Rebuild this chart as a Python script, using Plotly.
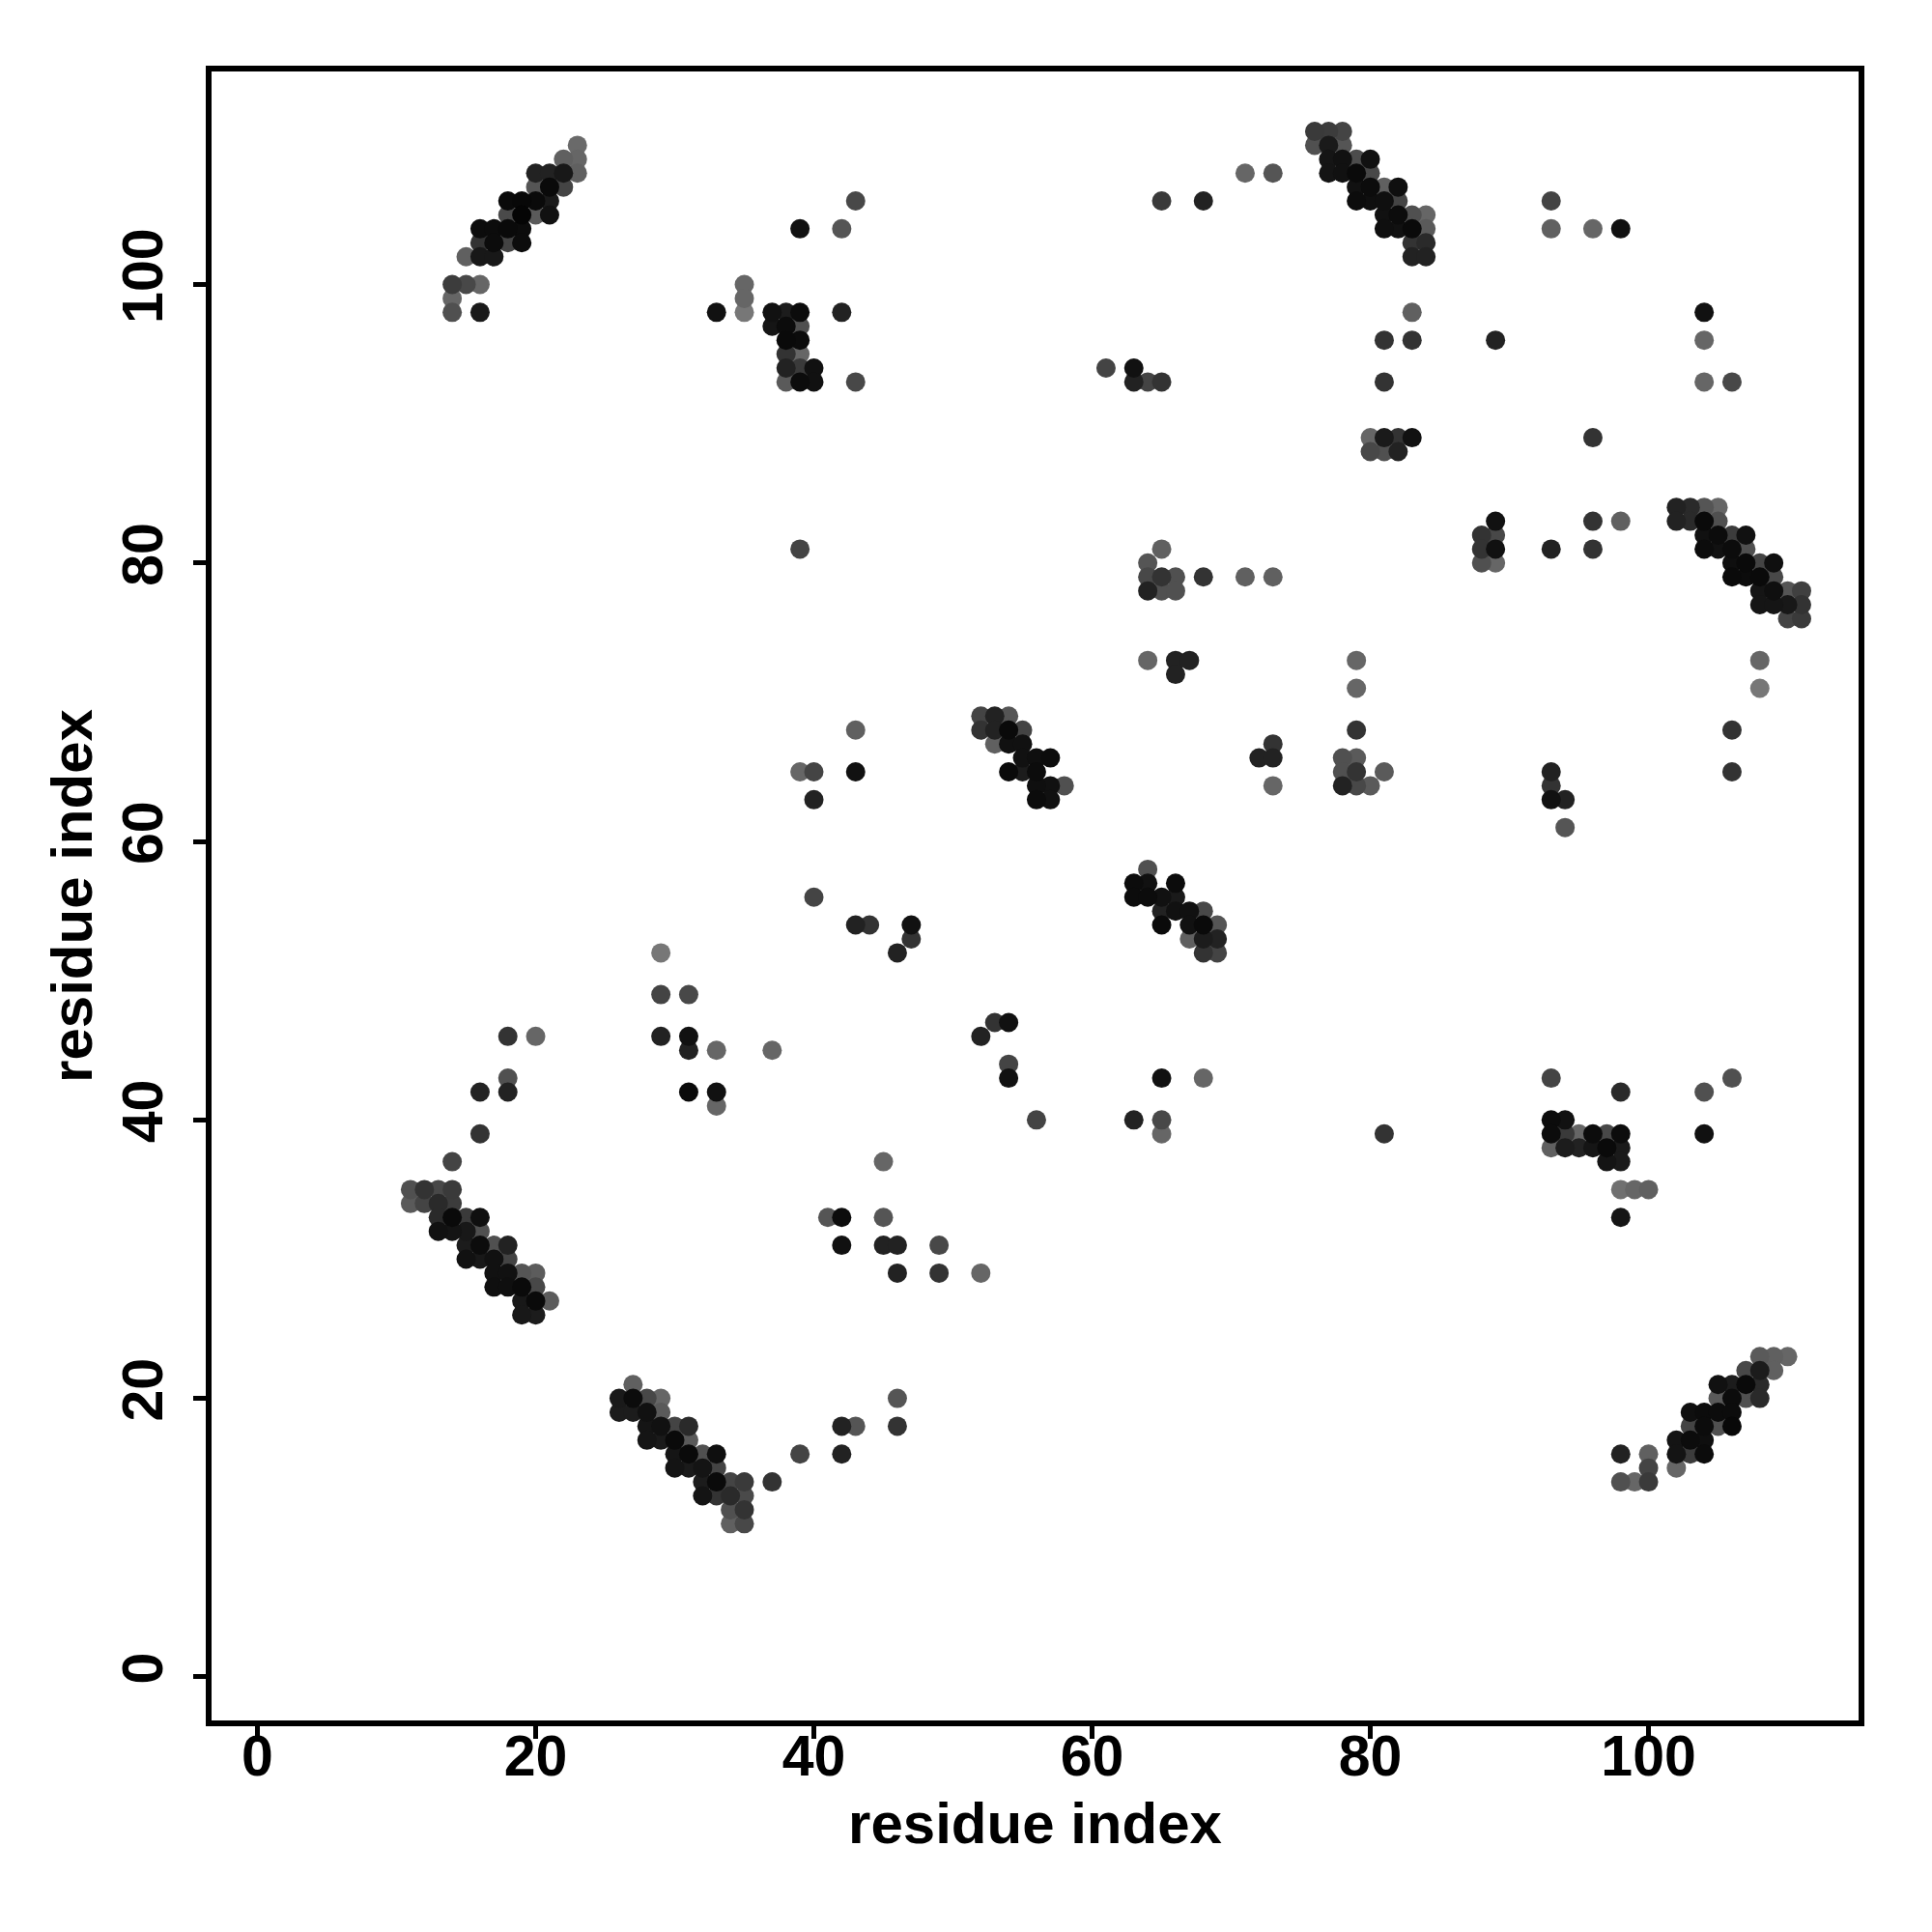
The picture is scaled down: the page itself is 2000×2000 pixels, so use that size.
import plotly.graph_objects as go

# (x, gray level 0-255) per contact, grouped by y
rows_y = {
 111:[(76,0x3a),(77,0x3c),(78,0x44)],
 110:[(23,0x6a),(76,0x50),(77,0x1a),(78,0x55)],
 109:[(22,0x60),(23,0x66),(77,0x15),(78,0x11),(79,0x4c),(80,0x11)],
 108:[(20,0x22),(21,0x22),(22,0x18),(23,0x60),(71,0x66),(73,0x55),(77,0x14),(78,0x11),(79,0x0a),(80,0x48)],
 107:[(20,0x55),(21,0x0a),(22,0x44),(79,0x11),(80,0x0c),(81,0x60),(82,0x0f)],
 106:[(18,0x0a),(19,0x08),(20,0x0a),(21,0x1a),(43,0x48),(65,0x3a),(68,0x22),(79,0x0c),(80,0x0f),(81,0x0f),(82,0x44),(93,0x44)],
 105:[(18,0x4a),(19,0x05),(20,0x5a),(21,0x11),(81,0x11),(82,0x0c),(83,0x50),(84,0x66)],
 104:[(16,0x0c),(17,0x0c),(18,0x0a),(19,0x0c),(39,0x11),(42,0x55),(81,0x0f),(82,0x11),(83,0x0a),(84,0x5a),(93,0x60),(96,0x66),(98,0x11)],
 103:[(16,0x33),(17,0x0c),(18,0x44),(19,0x0c),(83,0x33),(84,0x2a)],
 102:[(15,0x60),(16,0x18),(17,0x18),(83,0x22),(84,0x22)],
 100:[(14,0x3c),(15,0x48),(16,0x66),(35,0x66)],
 99:[(14,0x66),(35,0x66)],
 98:[(14,0x50),(16,0x1a),(33,0x11),(35,0x77),(37,0x11),(38,0x1c),(39,0x0c),(42,0x22),(83,0x60),(104,0x11)],
 97:[(37,0x15),(38,0x0c),(39,0x50)],
 96:[(38,0x0a),(39,0x0c),(81,0x33),(83,0x33),(89,0x22),(104,0x66)],
 95:[(38,0x33),(39,0x66)],
 94:[(38,0x22),(39,0x3a),(40,0x11),(61,0x44),(63,0x11)],
 93:[(38,0x5a),(39,0x0c),(40,0x11),(43,0x48),(63,0x22),(64,0x44),(65,0x33),(81,0x33),(104,0x66),(106,0x48)],
 89:[(80,0x66),(81,0x1a),(82,0x33),(83,0x11),(96,0x33)],
 88:[(80,0x48),(81,0x50),(82,0x22)],
 84:[(102,0x22),(103,0x2a),(104,0x55),(105,0x66)],
 83:[(89,0x11),(96,0x33),(98,0x60),(102,0x22),(103,0x2a),(104,0x0a),(105,0x50)],
 82:[(88,0x33),(89,0x48),(104,0x11),(105,0x0c),(106,0x3c),(107,0x11)],
 81:[(39,0x44),(65,0x60),(88,0x33),(89,0x11),(93,0x22),(96,0x33),(104,0x0c),(105,0x11),(106,0x0c),(107,0x50)],
 80:[(64,0x55),(88,0x50),(89,0x66),(106,0x0f),(107,0x0a),(108,0x44),(109,0x0f)],
 79:[(64,0x48),(65,0x33),(66,0x50),(68,0x33),(71,0x60),(73,0x60),(106,0x0a),(107,0x0c),(108,0x0a),(109,0x48)],
 78:[(64,0x22),(65,0x50),(66,0x50),(108,0x15),(109,0x0f),(110,0x55),(111,0x40)],
 77:[(108,0x15),(109,0x15),(110,0x18),(111,0x33)],
 76:[(110,0x44),(111,0x3a)],
 73:[(64,0x66),(66,0x22),(67,0x22),(79,0x66),(108,0x66)],
 72:[(66,0x22)],
 71:[(79,0x66),(108,0x77)],
 69:[(52,0x44),(53,0x22),(54,0x55)],
 68:[(43,0x60),(52,0x33),(53,0x22),(54,0x0a),(55,0x44),(79,0x33),(106,0x33)],
 67:[(53,0x60),(54,0x11),(55,0x11),(73,0x33)],
 66:[(55,0x11),(56,0x0f),(57,0x0c),(72,0x22),(73,0x22),(78,0x50),(79,0x5a)],
 65:[(39,0x66),(40,0x44),(43,0x11),(54,0x0a),(55,0x1c),(56,0x0c),(78,0x50),(79,0x33),(81,0x5a),(93,0x22),(106,0x33)],
 64:[(56,0x0f),(57,0x11),(58,0x50),(73,0x66),(78,0x22),(79,0x48),(80,0x5a),(93,0x33)],
 63:[(40,0x22),(56,0x0c),(57,0x11),(93,0x11),(94,0x22)],
 61:[(94,0x55)],
 58:[(64,0x50)],
 57:[(63,0x0c),(64,0x11),(66,0x0c)],
 56:[(40,0x44),(63,0x0c),(64,0x0c),(65,0x11),(66,0x1a)],
 55:[(65,0x22),(66,0x11),(67,0x11),(68,0x48)],
 54:[(43,0x22),(44,0x33),(47,0x11),(65,0x0a),(67,0x11),(68,0x0a),(69,0x55)],
 53:[(47,0x33),(67,0x60),(68,0x1c),(69,0x22)],
 52:[(29,0x77),(46,0x22),(68,0x33),(69,0x44)],
 49:[(29,0x44),(31,0x48)],
 47:[(53,0x33),(54,0x11)],
 46:[(18,0x33),(20,0x66),(29,0x22),(31,0x11),(52,0x22)],
 45:[(31,0x22),(33,0x66),(37,0x66)],
 44:[(54,0x44)],
 43:[(18,0x50),(54,0x11),(65,0x11),(68,0x66),(93,0x44),(106,0x50)],
 42:[(16,0x22),(18,0x22),(31,0x0a),(33,0x11),(98,0x2a),(104,0x50)],
 41:[(33,0x66)],
 40:[(56,0x44),(63,0x22),(65,0x48),(93,0x0c),(94,0x11)],
 39:[(16,0x33),(65,0x66),(81,0x33),(93,0x0c),(94,0x3a),(95,0x66),(96,0x0c),(97,0x48),(98,0x0c),(104,0x11)],
 38:[(93,0x60),(94,0x1c),(95,0x22),(96,0x15),(97,0x0a),(98,0x1a)],
 37:[(14,0x44),(45,0x66),(97,0x14),(98,0x1a)],
 35:[(11,0x50),(12,0x33),(13,0x48),(14,0x3a),(98,0x70),(99,0x66),(100,0x60)],
 34:[(11,0x5a),(12,0x44),(13,0x2a),(14,0x3c)],
 33:[(13,0x2a),(14,0x0a),(15,0x3a),(16,0x0f),(41,0x55),(42,0x0c),(45,0x55),(98,0x15)],
 32:[(13,0x11),(14,0x14),(15,0x18),(16,0x50)],
 31:[(15,0x1c),(16,0x0c),(17,0x50),(18,0x22),(42,0x11),(45,0x22),(46,0x22),(49,0x48)],
 30:[(15,0x11),(16,0x18),(17,0x11),(18,0x44)],
 29:[(17,0x11),(18,0x11),(19,0x55),(20,0x5c),(46,0x22),(49,0x33),(52,0x66)],
 28:[(17,0x0f),(18,0x0f),(19,0x0a),(20,0x48)],
 27:[(19,0x18),(20,0x0a),(21,0x5c)],
 26:[(19,0x18),(20,0x1c)],
 23:[(108,0x5a),(109,0x60),(110,0x66)],
 22:[(107,0x48),(108,0x1c),(109,0x60)],
 21:[(27,0x60),(105,0x11),(106,0x1c),(107,0x0a),(108,0x2a)],
 20:[(26,0x1a),(27,0x0c),(28,0x48),(29,0x66),(46,0x55),(105,0x5a),(106,0x0c),(107,0x50),(108,0x2a)],
 19:[(26,0x1c),(27,0x1c),(28,0x11),(29,0x5a),(103,0x0f),(104,0x0c),(105,0x0c),(106,0x0c)],
 18:[(28,0x15),(29,0x11),(30,0x44),(31,0x2a),(42,0x22),(43,0x55),(46,0x33),(103,0x44),(104,0x0c),(105,0x50),(106,0x08)],
 17:[(28,0x15),(29,0x1a),(30,0x0a),(31,0x5a),(102,0x14),(103,0x0c),(104,0x0f)],
 16:[(30,0x15),(31,0x0a),(32,0x50),(33,0x0f),(39,0x44),(42,0x22),(98,0x22),(100,0x60),(102,0x14),(103,0x3c),(104,0x0c)],
 15:[(30,0x14),(31,0x1a),(32,0x14),(33,0x44),(100,0x44),(102,0x66)],
 14:[(32,0x1c),(33,0x0a),(34,0x44),(35,0x3a),(37,0x33),(98,0x50),(99,0x66),(100,0x3a)],
 13:[(32,0x14),(33,0x33),(34,0x2a),(35,0x4a)],
 12:[(34,0x50),(35,0x33)],
 11:[(34,0x60),(35,0x48)],
}
tick_vals = [0, 20, 40, 60, 80, 100]
axis_label = "residue index"

res_x, res_y, gray = [], [], []
for y, cells in rows_y.items():
    for x, g in cells:
        res_x.append(x); res_y.append(y); gray.append(g)

# lighter points first, darker on top
order = sorted(range(len(gray)), key=lambda i: -gray[i])
fig = go.Figure(go.Scatter(
    x=[res_x[i] for i in order], y=[res_y[i] for i in order], mode="markers",
    marker=dict(size=20, color=[f"rgb({gray[i]},{gray[i]},{gray[i]})" for i in order], line=dict(width=0)),
))
tick_font = dict(family="Liberation Sans", size=59, color="black", weight="bold")
title_font = dict(family="Liberation Sans", size=60, color="black", weight="bold")
ax = dict(tickvals=tick_vals, ticks="outside", ticklen=13, tickwidth=5,
          tickcolor="black", showgrid=False, zeroline=False, showline=True, linecolor="black",
          linewidth=6, mirror=True, tickfont=tick_font)
fig.update_xaxes(**ax, range=[-3.30, 115.1], ticklabelstandoff=-33, title=dict(text=axis_label, font=title_font, standoff=18))
fig.update_yaxes(**ax, range=[-3.13, 115.3], tickangle=-90, ticklabelstandoff=8, title=dict(text=axis_label, font=title_font, standoff=2))
fig.update_layout(width=2000, height=2000, margin=dict(l=211, r=84, t=66, b=227, autoexpand=False),
                  plot_bgcolor="white", paper_bgcolor="white", showlegend=False)
fig.write_html("out.html")
